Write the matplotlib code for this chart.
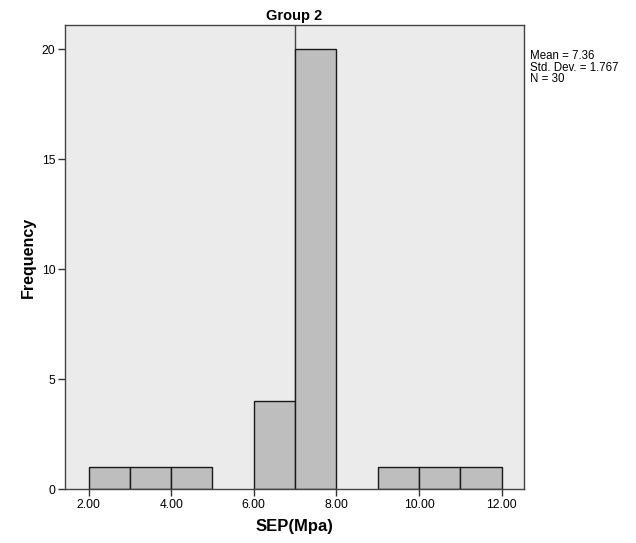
import matplotlib
matplotlib.use("Agg")
import matplotlib.pyplot as plt

bin_left = [2, 3, 4, 6, 7, 9, 10, 11]
counts = [1, 1, 1, 4, 20, 1, 1, 1]
bin_width = 1.0
x_ticks = [2, 4, 6, 8, 10, 12]
x_tick_labels = ["2.00", "4.00", "6.00", "8.00", "10.00", "12.00"]
y_ticks = [0, 5, 10, 15, 20]
title = "Group 2"
xlabel = "SEP(Mpa)"
ylabel = "Frequency"
stats_text = "Mean = 7.36\nStd. Dev. = 1.767\nN = 30"
divider_x = 7

plt.rcParams['font.family'] = ['Liberation Sans', 'DejaVu Sans']

fig = plt.figure(figsize=(6.36, 5.43), dpi=100)
fig.patch.set_facecolor('white')
ax = fig.add_axes([0.1022, 0.0994, 0.7217, 0.854])
ax.set_facecolor('#ebebeb')

ax.axvline(divider_x, color='#444444', lw=1.0, zorder=1)
ax.bar(bin_left, counts, width=bin_width, align='edge', color='#bebebe',
       edgecolor='#1a1a1a', linewidth=1.0, zorder=2)

ax.set_xlim(1.43, 12.54)
ax.set_ylim(0, 21.08)
ax.set_xticks(x_ticks)
ax.set_xticklabels(x_tick_labels)
ax.set_yticks(y_ticks)
ax.tick_params(axis='both', direction='out', length=5, width=1, color='#333333',
               labelsize=8.7, pad=2)
for s in ax.spines.values():
    s.set_color('#444444')
    s.set_linewidth(1.0)

ax.set_xlabel(xlabel, fontsize=12, fontweight='bold', labelpad=6)
ax.set_ylabel(ylabel, fontsize=11.5, fontweight='bold', labelpad=4)
ax.set_title(title, fontsize=10.5, fontweight='bold', pad=4)

fig.text(530/636, 1 - 50/543, stats_text, fontsize=8.3, va='top', ha='left',
         linespacing=0.95)

fig.savefig("out.png", dpi=100)
